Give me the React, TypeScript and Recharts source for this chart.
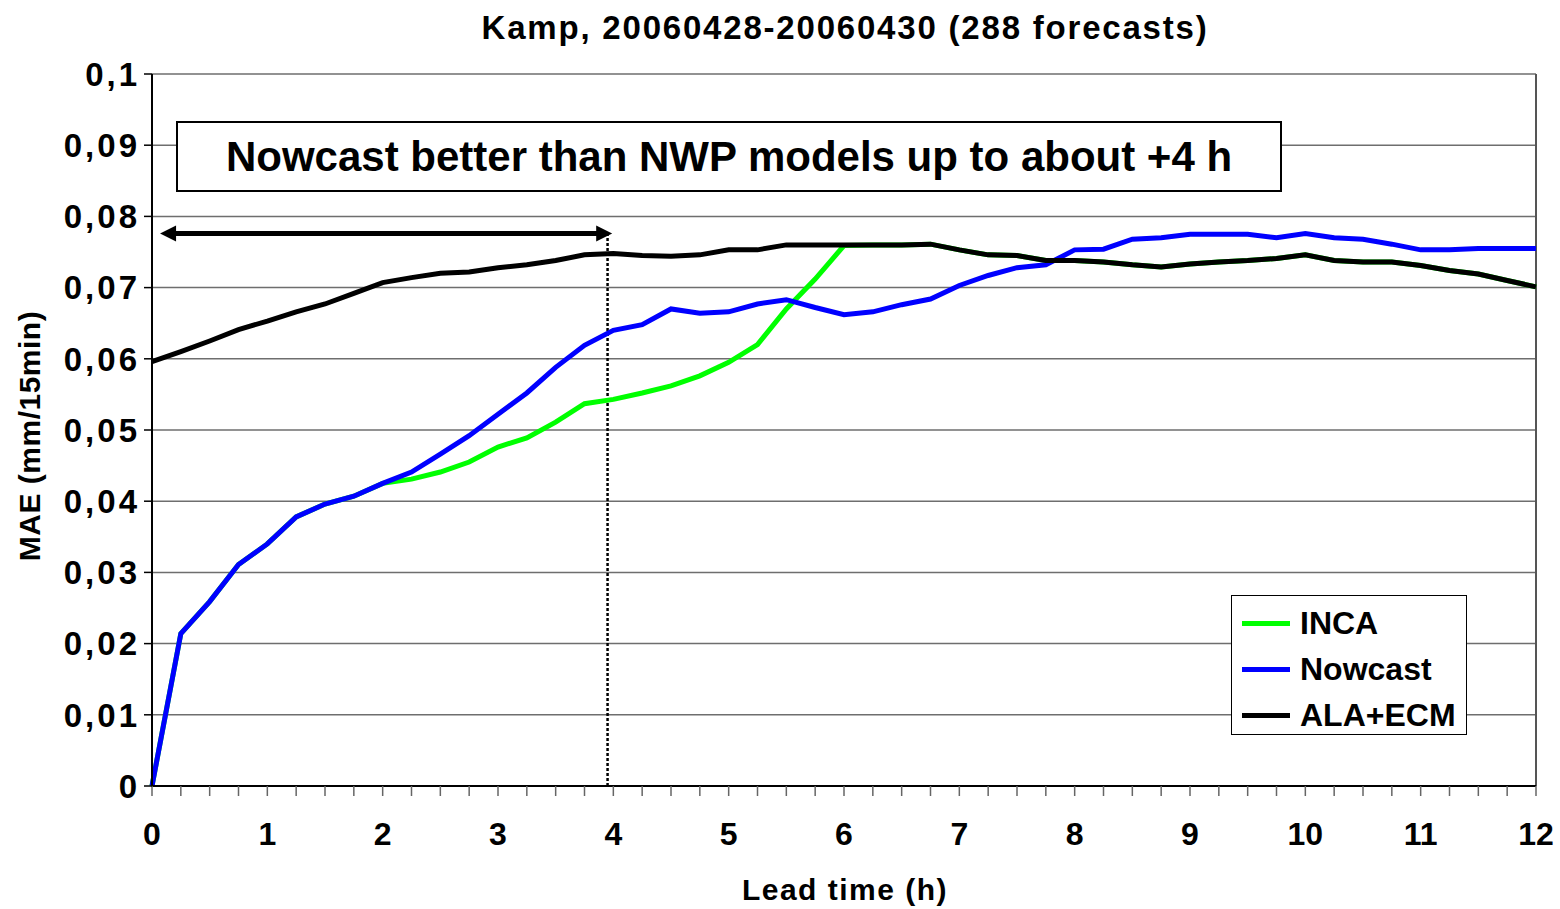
import { LineChart, Line, XAxis, YAxis, CartesianGrid, ReferenceLine } from 'recharts';

const leadTimes = [
    0, 0.25, 0.5, 0.75, 1, 1.25, 1.5, 1.75, 2, 2.25, 2.5, 2.75, 3, 3.25, 3.5, 3.75, 4,
    4.25, 4.5, 4.75, 5, 5.25, 5.5, 5.75, 6, 6.25, 6.5, 6.75, 7, 7.25, 7.5, 7.75, 8,
    8.25, 8.5, 8.75, 9, 9.25, 9.5, 9.75, 10, 10.25, 10.5, 10.75, 11, 11.25, 11.5, 11.75, 12,
];

const inca = [
    0, 0.0214, 0.0259, 0.0311, 0.034, 0.0378, 0.0396, 0.0407, 0.0425, 0.0431, 0.0441, 0.0455, 0.0476,
    0.0489, 0.0511, 0.0537, 0.0543, 0.0552, 0.0562, 0.0576, 0.0595, 0.062, 0.067, 0.0712, 0.0759,
    0.076, 0.076, 0.0761, 0.0753, 0.0746, 0.0745, 0.0738, 0.0738, 0.0736, 0.0732, 0.0729, 0.0733,
    0.0736, 0.0738, 0.0741, 0.0746, 0.0738, 0.0736, 0.0736, 0.0731, 0.0724, 0.0719, 0.071, 0.0701,
];

const nowcast = [
    0, 0.0214, 0.0259, 0.0311, 0.034, 0.0378, 0.0396, 0.0407, 0.0425, 0.0441, 0.0466, 0.0492, 0.0522,
    0.0552, 0.0588, 0.0619, 0.064, 0.0648, 0.067, 0.0664, 0.0666, 0.0677, 0.0683, 0.0672, 0.0662,
    0.0666, 0.0676, 0.0684, 0.0703, 0.0717, 0.0728, 0.0732, 0.0753, 0.0754, 0.0768, 0.077, 0.0775,
    0.0775, 0.0775, 0.077, 0.0776, 0.077, 0.0768, 0.0761, 0.0753, 0.0753, 0.0755, 0.0755, 0.0755,
];

const alaEcm = [
    0.0596, 0.061, 0.0625, 0.0641, 0.0653, 0.0666, 0.0677, 0.0692, 0.0707, 0.0714, 0.072, 0.0722, 0.0728,
    0.0732, 0.0738, 0.0746, 0.0748, 0.0745, 0.0744, 0.0746, 0.0753, 0.0753, 0.076, 0.076, 0.076,
    0.076, 0.076, 0.0761, 0.0753, 0.0746, 0.0745, 0.0738, 0.0738, 0.0736, 0.0732, 0.0729, 0.0733,
    0.0736, 0.0738, 0.0741, 0.0746, 0.0738, 0.0736, 0.0736, 0.0731, 0.0724, 0.0719, 0.071, 0.0701,
];

const yTicks = [0, 0.01, 0.02, 0.03, 0.04, 0.05, 0.06, 0.07, 0.08, 0.09, 0.1];

// annotation: "better" range arrow and the dotted marker at about +4 h
const arrowRange = [0.07, 3.99];
const arrowLevel = 0.0776;
const markerTime = 3.95;

const series = [
    { key: 'inca', name: 'INCA', color: '#00FF00' },
    { key: 'nowcast', name: 'Nowcast', color: '#0000FF' },
    { key: 'alaEcm', name: 'ALA+ECM', color: '#000000' },
];

const data = leadTimes.map((t, i) => ({ t, inca: inca[i], nowcast: nowcast[i], alaEcm: alaEcm[i] }));

const FONT = '"Liberation Sans", Arial, sans-serif';

const DoubleArrow = (props: any) => {
    const { x1, y1, x2 } = props;
    const head = 16;
    const half = 8;
    return (
        <g>
            <line x1={x1 + head - 2} y1={y1} x2={x2 - head + 2} y2={y1} stroke="#000" strokeWidth={5} />
            <polygon points={`${x1},${y1} ${x1 + head},${y1 - half} ${x1 + head},${y1 + half}`} fill="#000" />
            <polygon points={`${x2},${y1} ${x2 - head},${y1 - half} ${x2 - head},${y1 + half}`} fill="#000" />
        </g>
    );
};

export default function App() {
    return (
        <div style={{ position: 'absolute', left: 0, top: 0, width: 1560, height: 909, background: '#fff', fontFamily: FONT }}>
            <div
                style={{
                    position: 'absolute',
                    left: 845,
                    top: 28,
                    transform: 'translate(-50%, -50%)',
                    whiteSpace: 'nowrap',
                    fontSize: 33,
                    fontWeight: 'bold',
                    letterSpacing: 1.8,
                }}
            >
                Kamp, 20060428-20060430 (288 forecasts)
            </div>
            <LineChart width={1560} height={909} data={data} margin={{ top: 74, right: 24, bottom: 0, left: 0 }}>
                <CartesianGrid vertical={false} stroke="#6e6e6e" strokeWidth={1.5} />
                <XAxis
                    dataKey="t"
                    type="number"
                    domain={[0, 12]}
                    ticks={leadTimes}
                    interval={0}
                    height={123}
                    tickFormatter={(v: number) => (Number.isInteger(v) ? String(v) : '')}
                    axisLine={{ stroke: '#000', strokeWidth: 2 }}
                    tickLine={{ stroke: '#666', strokeWidth: 1.5 }}
                    tickSize={10}
                    tickMargin={26}
                    tick={{ fill: '#000', fontSize: 32, fontWeight: 'bold', fontFamily: FONT }}
                />
                <YAxis
                    type="number"
                    domain={[0, 0.1]}
                    ticks={yTicks}
                    interval={0}
                    width={152}
                    tickFormatter={(v: number) => String(+v.toFixed(2)).replace('.', ',')}
                    axisLine={{ stroke: '#000', strokeWidth: 2 }}
                    tickLine={{ stroke: '#000', strokeWidth: 1.5 }}
                    tickSize={8}
                    tickMargin={4}
                    tick={{ fill: '#000', fontSize: 33, fontWeight: 'bold', fontFamily: FONT, style: { letterSpacing: '3px' } }}
                />
                <ReferenceLine x={12} stroke="#555" strokeWidth={2} />
                <ReferenceLine
                    segment={[{ x: markerTime, y: 0 }, { x: markerTime, y: arrowLevel }]}
                    stroke="#000"
                    strokeWidth={2.5}
                    strokeDasharray="3 2"
                />
                {series.map((s) => (
                    <Line
                        key={s.key}
                        type="linear"
                        dataKey={s.key}
                        name={s.name}
                        stroke={s.color}
                        strokeWidth={5}
                        dot={false}
                        activeDot={false}
                        isAnimationActive={false}
                    />
                ))}
                <ReferenceLine
                    segment={[{ x: arrowRange[0], y: arrowLevel }, { x: arrowRange[1], y: arrowLevel }]}
                    stroke="#000"
                    shape={DoubleArrow}
                />
            </LineChart>
            <div
                style={{
                    position: 'absolute',
                    left: 1231,
                    top: 595,
                    width: 236,
                    height: 140,
                    boxSizing: 'border-box',
                    border: '1.5px solid #000',
                    background: '#fff',
                    paddingTop: 4,
                    fontWeight: 'bold',
                    fontSize: 32,
                }}
            >
                {series.map((s) => (
                    <div key={s.key} style={{ display: 'flex', alignItems: 'center', height: 46 }}>
                        <div style={{ width: 48, height: 5, background: s.color, marginLeft: 10, marginRight: 10 }} />
                        <span>{s.name}</span>
                    </div>
                ))}
            </div>
            <div
                style={{
                    position: 'absolute',
                    left: 176,
                    top: 121,
                    width: 1106,
                    height: 71,
                    boxSizing: 'border-box',
                    border: '2px solid #000',
                    background: '#fff',
                    display: 'flex',
                    alignItems: 'center',
                    justifyContent: 'center',
                    fontSize: 42,
                    fontWeight: 'bold',
                    whiteSpace: 'nowrap',
                }}
            >
                Nowcast better than NWP models up to about +4 h
            </div>
            <div
                style={{
                    position: 'absolute',
                    left: 845,
                    top: 890,
                    transform: 'translate(-50%, -50%)',
                    whiteSpace: 'nowrap',
                    fontSize: 30,
                    fontWeight: 'bold',
                    letterSpacing: 1.5,
                }}
            >
                Lead time (h)
            </div>
            <div
                style={{
                    position: 'absolute',
                    left: 30,
                    top: 436,
                    transform: 'translate(-50%, -50%) rotate(-90deg)',
                    whiteSpace: 'nowrap',
                    fontSize: 30,
                    fontWeight: 'bold',
                    letterSpacing: 0.5,
                }}
            >
                MAE (mm/15min)
            </div>
        </div>
    );
}
